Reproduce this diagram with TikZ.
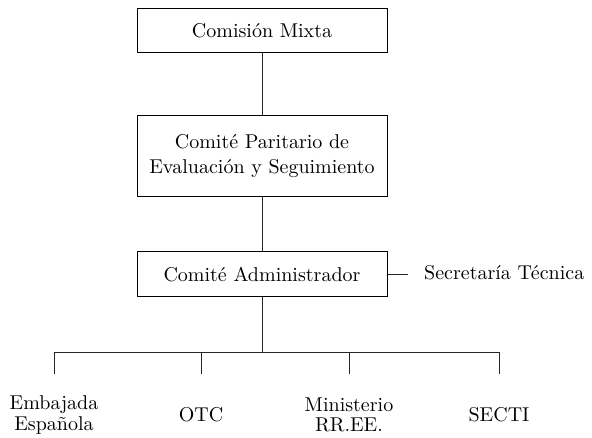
\documentclass[tikz,border=0pt]{standalone}
\usepackage{fontspec}
\setmainfont{lmroman10-regular.otf}
\begin{document}
\begin{tikzpicture}[x=1pt,y=-1pt,
  box/.style={draw=black,line width=1pt,minimum width=250pt,inner sep=0pt,align=center,
    font=\fontsize{20}{25}\selectfont},
  lbl/.style={inner sep=0pt,align=center,font=\fontsize{20}{20.5}\selectfont},
  conn/.style={draw=black!85,line width=1pt}]
\useasboundingbox (0,0) rectangle (592,438);
\node[box,minimum height=44pt] (cm) at (262,31) {Comisión Mixta};
\node[box,minimum height=81pt] (cp) at (262,156.5) {Comité Paritario de\\Evaluación y Seguimiento};
\node[box,minimum height=45pt] (ca) at (262,274.5) {Comité Administrador};
\node[lbl,anchor=base west] (st) at (424,280) {Secretaría Técnica};
\coordinate (hub) at (262,353);
\coordinate (d1) at (54,374);
\coordinate (d2) at (201,374);
\coordinate (d3) at (349,374);
\coordinate (d4) at (499,374);
\node[lbl] (emb) at (54,415) {Embajada\\Española};
\node[lbl] (otc) at (201,415) {OTC};
\node[lbl] (min) at (349,415) {Ministerio\\RR.EE.};
\node[lbl] (sec) at (499,415) {SECTI};
\draw[conn] (cm.south) -- (cp.north);
\draw[conn] (cp.south) -- (ca.north);
\draw[conn] (ca.south) -- (hub);
\draw[conn,shorten >=16pt] (ca.east) -- (ca.east -| st.west);
\draw[conn] (hub) -| (d1);
\draw[conn] (hub) -| (d2);
\draw[conn] (hub) -| (d3);
\draw[conn] (hub) -| (d4);
\end{tikzpicture}
\end{document}
